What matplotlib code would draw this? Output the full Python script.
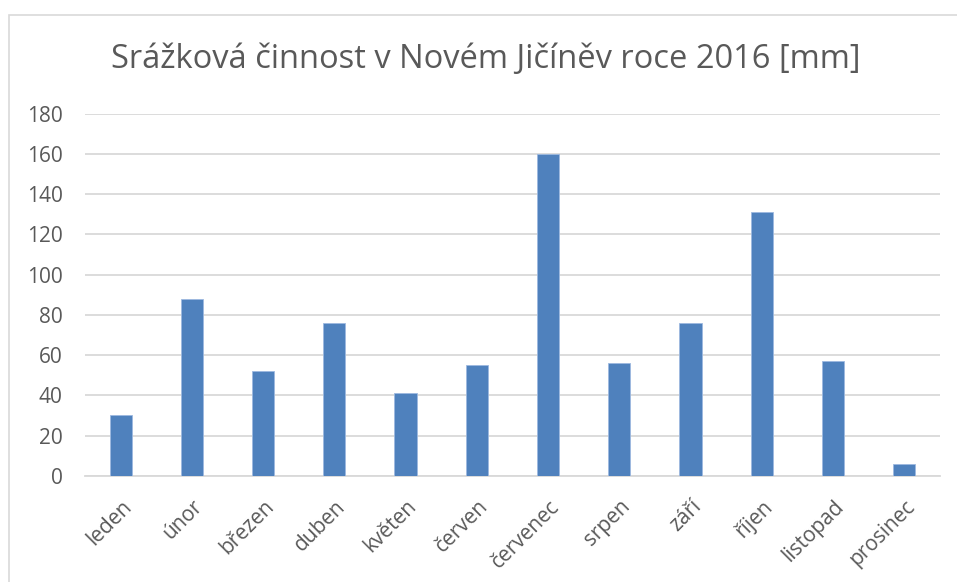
import matplotlib
matplotlib.use('Agg')
import matplotlib.pyplot as plt
from matplotlib.patches import Rectangle
import matplotlib.transforms as mtransforms
import numpy as np

plt.rcParams['font.family'] = ['Open Sans', 'DejaVu Sans']

months = ['leden', 'únor', 'březen', 'duben', 'květen', 'červen',
          'červenec', 'srpen', 'září', 'říjen', 'listopad', 'prosinec']
rain = [30, 88, 52, 76, 41, 55, 160, 56, 76, 131, 57, 6]
yticks = [0, 20, 40, 60, 80, 100, 120, 140, 160, 180]

grey = '#595959'
gridc = '#D9D9D9'

fig = plt.figure(figsize=(9.57, 5.82), dpi=100)
ax = fig.add_axes([0.0888, 0.1826, 0.8932, 0.622])

x = np.arange(len(months))
ax.bar(x, rain, width=0.31, color='#4F81BD', edgecolor='#9DB9E0', linewidth=0.6, zorder=3)

ax.set_xlim(-0.5, len(months) - 0.5)
ax.set_ylim(0, 180)
ax.set_yticks(yticks)
ax.set_yticklabels([str(v) for v in yticks], fontsize=15, color=grey)
ax.set_xticks(x)
ax.set_xticklabels(months, rotation=45, ha='right', va='center', rotation_mode='anchor',
                   fontsize=15, color=grey)
ax.tick_params(axis='y', length=0, pad=16)
ax.tick_params(axis='x', length=0, pad=20)
shift = mtransforms.ScaledTranslation(8 / 100, 0, fig.dpi_scale_trans)
for lab in ax.get_xticklabels():
    lab.set_transform(lab.get_transform() + shift)
ax.grid(axis='y', color=gridc, linewidth=1.3, zorder=0)
for s in ['left', 'right', 'top']:
    ax.spines[s].set_visible(False)
ax.spines['bottom'].set_color(gridc)
ax.spines['bottom'].set_linewidth(1.3)

fig.text(0.508, 0.897, 'Srážková činnost v Novém Jičíněv roce 2016 [mm]',
         ha='center', va='center', fontsize=23.5, color=grey)

# chart border
fig.patches.append(Rectangle((9 / 957, -0.01), 1.0, 1 - 15 / 582 + 0.01,
                             transform=fig.transFigure, fill=False,
                             edgecolor=gridc, linewidth=1.2))

fig.savefig('out.png', dpi=100)
